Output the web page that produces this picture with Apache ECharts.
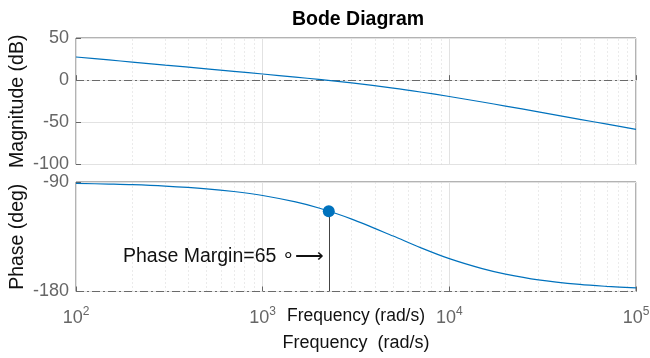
<!DOCTYPE html>
<html>
<head>
<meta charset="utf-8">
<script src="https://cdn.jsdelivr.net/npm/echarts@6/dist/echarts.min.js"></script>
<style>
  html, body { margin: 0; padding: 0; background: #fff; }
  #chart { width: 650px; height: 358px; }
</style>
</head>
<body>
<div id="chart"></div>
<script>
// frequency samples (rad/s) and the values
const freqs = [100, 150, 200, 300, 500, 700, 1000, 1500, 2000, 3000, 5000, 7000, 10000, 15000, 20000, 30000, 50000, 70000, 100000];
const magDb = [27.5, 24.0, 21.5, 17.9, 13.5, 10.5, 7.3, 3.6, 0.9, -3.3, -9.4, -14.0, -19.4, -25.9, -30.7, -37.6, -46.4, -52.2, -58.4];
const phaseDeg = [-91.1, -91.7, -92.2, -93.4, -95.6, -97.8, -101.1, -106.4, -111.4, -120.5, -134.4, -143.9, -153.0, -161.2, -165.7, -170.4, -174.2, -175.8, -177.1];

// axis ticks
const freqTicks = [100, 1000, 10000, 100000];
const minorFreqs = [200, 300, 400, 500, 600, 700, 800, 900,
  2000, 3000, 4000, 5000, 6000, 7000, 8000, 9000,
  20000, 30000, 40000, 50000, 60000, 70000, 80000, 90000];
const magTicks = [-100, -50, 0, 50];
const phaseTicks = [-180, -90];

// phase margin marker
const pmFreq = 2260;
const pmPhase = -114;
const pmTextPhase = -151;
const pmLabel = 'Phase Margin=65 \u2218\u27F6';

const FONT = 'Liberation Sans, Arial, Helvetica, sans-serif';
const BLUE = '#0072BD';
const BOX = '#666666';
const TICK_TXT = '#666666';

const chart = echarts.init(document.getElementById('chart'));

const toPairs = (ys) => freqs.map((f, i) => [f, ys[i]]);

// dotted minor grid lines at 2..9 of every decade
const minorLines = {
  silent: true,
  symbol: ['none', 'none'],
  label: { show: false },
  animation: false,
  lineStyle: { color: '#d6d6d6', type: [1, 3], width: 1 },
  data: minorFreqs.map((f) => ({ xAxis: f })),
};

const dashDot = (y) => ({
  silent: true,
  symbol: ['none', 'none'],
  label: { show: false },
  animation: false,
  lineStyle: { color: '#6a6a6a', type: [8, 3, 2, 3], width: 1 },
  data: [{ yAxis: y }],
});

const xAxisBase = {
  type: 'log',
  logBase: 10,
  position: 'bottom',
  min: freqTicks[0],
  max: freqTicks[freqTicks.length - 1],
  axisLine: { show: false },
  axisTick: { show: true, inside: true, length: 5, lineStyle: { color: BOX } },
  splitLine: { show: true, lineStyle: { color: '#e2e2e2', width: 1 } },
};

const yAxisBase = {
  type: 'value',
  nameLocation: 'middle',
  nameRotate: 90,
  nameGap: 48,
  nameMoveOverlap: false,
  nameTextStyle: { fontFamily: FONT, fontSize: 19.5, color: '#111' },
  axisLine: { show: false },
  axisTick: { show: true, inside: true, length: 5, lineStyle: { color: BOX } },
  axisLabel: { fontFamily: FONT, fontSize: 18, color: TICK_TXT, margin: 7 },
  splitLine: { show: true, lineStyle: { color: '#e2e2e2', width: 1 } },
};

const option = {
  animation: false,
  textStyle: { fontFamily: FONT },
  title: {
    text: 'Bode Diagram',
    left: 353,
    textAlign: 'center',
    top: 5,
    textStyle: { fontFamily: FONT, fontSize: 19.5, fontWeight: 'bold', color: '#000' },
  },
  grid: [
    { left: 76, top: 38, width: 560, height: 126.5, show: true, borderColor: BOX, borderWidth: 1, backgroundColor: '#fff', outerBoundsMode: 'none' },
    { left: 76, top: 182, width: 560, height: 109.5, show: true, borderColor: BOX, borderWidth: 1, backgroundColor: '#fff', outerBoundsMode: 'none' },
  ],
  xAxis: [
    Object.assign({}, xAxisBase, {
      gridIndex: 0,
      axisLabel: { show: false },
      // outer label of the whole figure
      name: 'Frequency  (rad/s)',
      nameLocation: 'middle',
      nameGap: 170,
      nameMoveOverlap: false,
      nameTextStyle: { fontFamily: FONT, fontSize: 18, color: '#111', verticalAlign: 'top' },
    }),
    Object.assign({}, xAxisBase, {
      gridIndex: 1,
      name: 'Frequency (rad/s)',
      nameLocation: 'middle',
      nameGap: 16,
      nameMoveOverlap: false,
      nameTextStyle: { fontFamily: FONT, fontSize: 17.5, color: '#111', verticalAlign: 'top' },
      axisLabel: {
        margin: 14,
        formatter: (v) => '{b|10}{s|' + Math.round(Math.log10(v)) + '}',
        rich: {
          b: { fontFamily: FONT, fontSize: 18, color: TICK_TXT, verticalAlign: 'bottom', lineHeight: 22 },
          s: { fontFamily: FONT, fontSize: 12, color: TICK_TXT, verticalAlign: 'top', lineHeight: 22 },
        },
      },
    }),
  ],
  yAxis: [
    Object.assign({}, yAxisBase, {
      gridIndex: 0,
      min: magTicks[0],
      max: magTicks[magTicks.length - 1],
      interval: magTicks[1] - magTicks[0],
      name: 'Magnitude (dB)',
    }),
    Object.assign({}, yAxisBase, {
      gridIndex: 1,
      min: phaseTicks[0],
      max: phaseTicks[phaseTicks.length - 1],
      interval: phaseTicks[1] - phaseTicks[0],
      name: 'Phase (deg)',
    }),
  ],
  series: [
    // grid furniture: minor grid + 0 dB / -180 deg lines
    {
      type: 'line', xAxisIndex: 0, yAxisIndex: 0, data: [], silent: true,
      markLine: minorLines,
    },
    {
      type: 'line', xAxisIndex: 0, yAxisIndex: 0, data: [], silent: true,
      markLine: dashDot(0),
    },
    {
      type: 'line', xAxisIndex: 1, yAxisIndex: 1, data: [], silent: true,
      markLine: minorLines,
    },
    {
      type: 'line', xAxisIndex: 1, yAxisIndex: 1, data: [], silent: true,
      markLine: dashDot(phaseTicks[0]),
    },
    // magnitude
    {
      name: 'Magnitude',
      type: 'line',
      xAxisIndex: 0,
      yAxisIndex: 0,
      data: toPairs(magDb),
      smooth: 0.3,
      showSymbol: false,
      lineStyle: { color: BLUE, width: 1.2 },
      z: 5,
    },
    // phase
    {
      name: 'Phase',
      type: 'line',
      xAxisIndex: 1,
      yAxisIndex: 1,
      data: toPairs(phaseDeg),
      smooth: 0.3,
      showSymbol: false,
      lineStyle: { color: BLUE, width: 1.2 },
      z: 5,
      markLine: {
        silent: true,
        symbol: ['none', 'none'],
        label: { show: false },
        lineStyle: { color: '#444', type: 'solid', width: 1 },
        data: [[{ coord: [pmFreq, pmPhase] }, { coord: [pmFreq, phaseTicks[0]] }]],
      },
      markPoint: {
        silent: true,
        symbol: 'circle',
        symbolSize: 0,
        label: {
          show: true,
          position: 'left',
          distance: 5,
          formatter: pmLabel,
          fontFamily: FONT,
          fontSize: 19.5,
          color: '#111',
        },
        data: [{ coord: [pmFreq, pmTextPhase] }],
      },
    },
    // phase margin dot
    {
      type: 'scatter',
      xAxisIndex: 1,
      yAxisIndex: 1,
      data: [[pmFreq, pmPhase]],
      symbolSize: 12,
      itemStyle: { color: BLUE, opacity: 1 },
      z: 6,
    },
  ],
};

chart.setOption(option);
</script>
</body>
</html>
